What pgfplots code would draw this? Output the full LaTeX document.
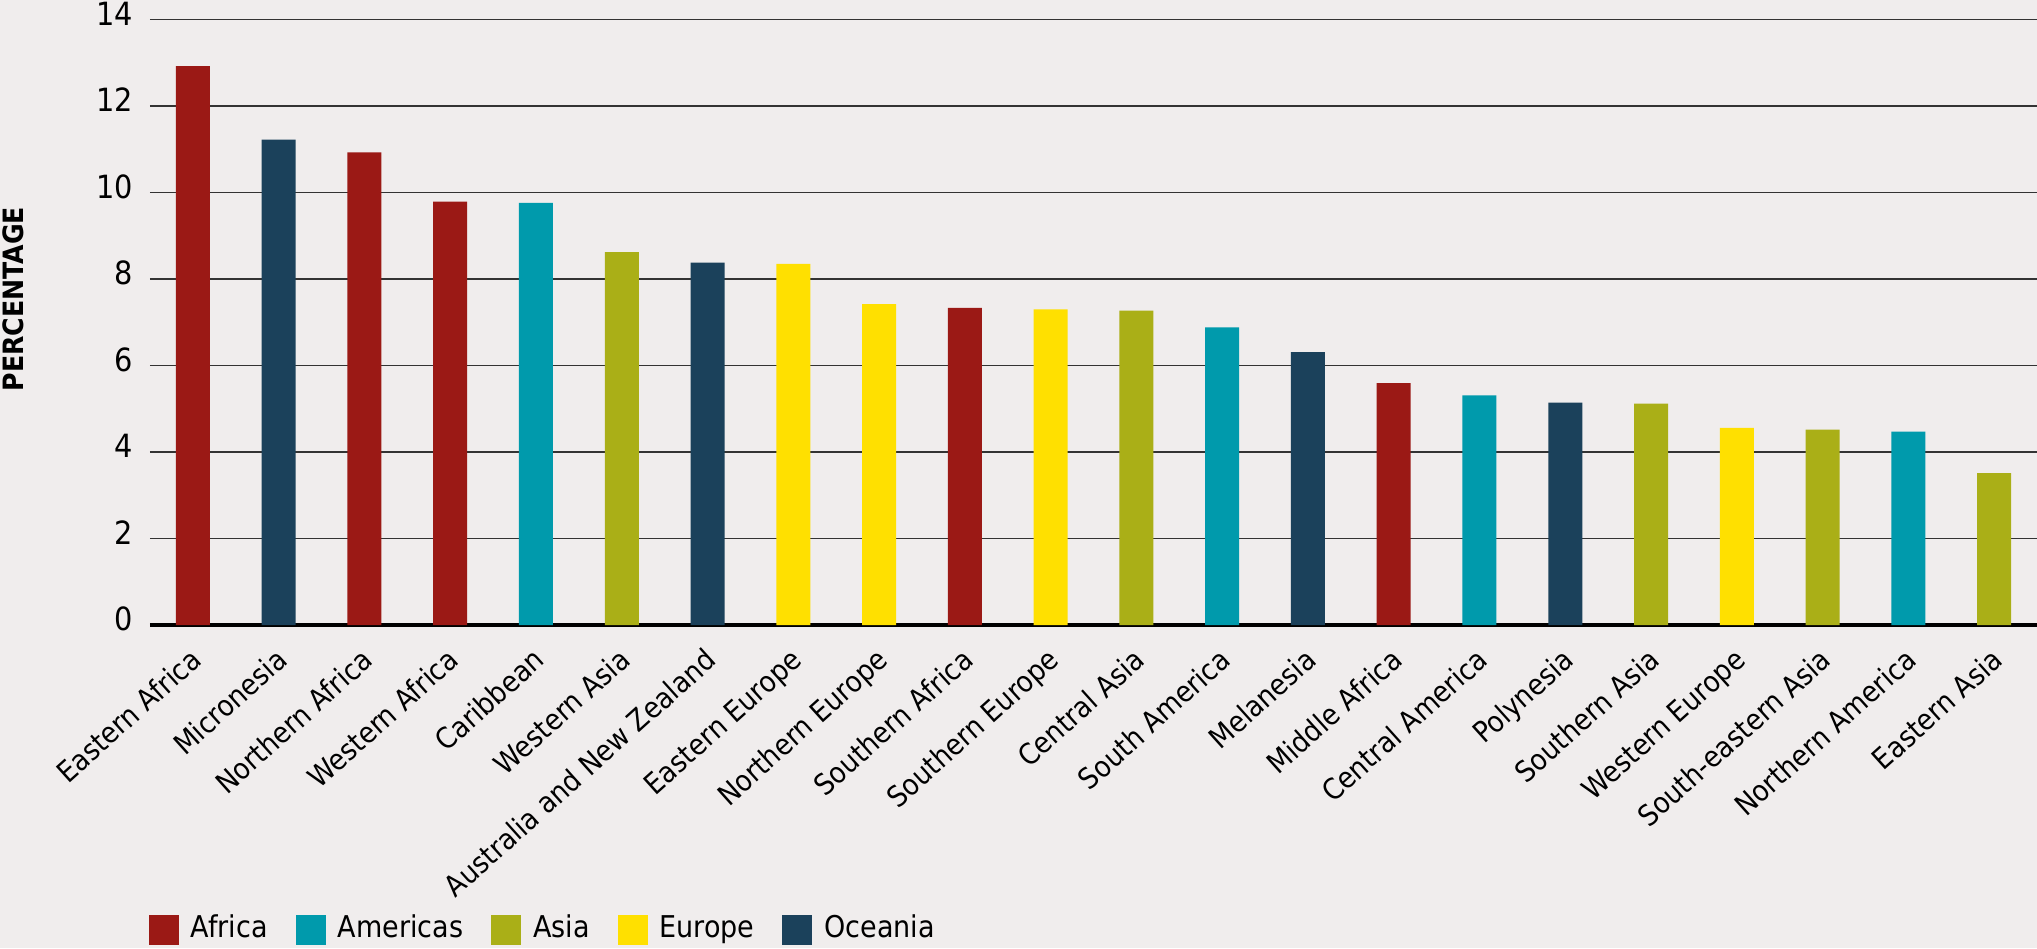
\documentclass[border=0pt]{standalone}
\usepackage{pgfplots}
\pgfplotsset{compat=1.18}
\usepackage{fontspec}
\setmainfont{DejaVu Sans Condensed}
\definecolor{bgc}{HTML}{F0EDED}
\definecolor{africa}{HTML}{9B1915}
\definecolor{americas}{HTML}{009AAC}
\definecolor{asia}{HTML}{AAAF17}
\definecolor{europe}{HTML}{FFE000}
\definecolor{oceania}{HTML}{1B415B}
\begin{document}
\begin{tikzpicture}
\fill[bgc] (-75pt,-161.5pt) rectangle (943.5pt,312.5pt);
\useasboundingbox (-75pt,-161.5pt) rectangle (943.5pt,312.5pt);
\begin{axis}[
  scale only axis,
  width=943.5pt, height=302.75pt,
  ybar, bar width=17pt, bar shift=0pt,
  xmin=-0.5, xmax=21.5,
  ymin=0, ymax=14,
  ytick={0,2,...,14},
  xtick={0,...,21},
  xticklabels={Eastern Africa, Micronesia, Northern Africa, Western Africa, Caribbean, Western Asia, Australia and New Zealand, Eastern Europe, Northern Europe, Southern Africa, Southern Europe, Central Asia, South America, Melanesia, Middle Africa, Central America, Polynesia, Southern Asia, Western Europe, South-eastern Asia, Northern America, Eastern Asia},
  x tick label style={font=\fontsize{14.5}{17}\selectfont, text height=11pt, text depth=3pt, inner sep=0pt, anchor=east, xshift=2.6pt, yshift=-15.8pt, rotate=42},
  y tick label style={anchor=east, xshift=-5pt, yshift=3pt, font=\fontsize{16}{18}\selectfont},
  /pgf/number format/assume math mode=true,
  major tick length=0pt,
  axis x line*=bottom, axis y line*=left,
  x axis line style={line width=1.6pt, -},
  y axis line style={draw=none},
  ymajorgrids,
  major grid style={black!80, line width=0.7pt},
  every axis y label/.style={at={(axis description cs:-0.0726,0.538)}, rotate=90, anchor=center, font=\bfseries\fontsize{14}{16}\selectfont},
  ylabel={PERCENTAGE},
  legend columns=5,
  legend style={at={(axis description cs:-0.004,-0.503)}, anchor=west, draw=none, fill=none,
    font=\fontsize{15}{17}\selectfont,
    nodes={inner sep=0pt, text height=11pt, text depth=3pt},
    /tikz/every odd column/.append style={column sep=6pt},
    /tikz/every even column/.append style={column sep=14pt}},
  legend image code/.code={\fill[#1] (0pt,-7.5pt) rectangle (15pt,7.5pt);},
  every axis plot/.append style={draw=none},
]
\addplot[fill=africa] coordinates {(0,12.92) (2,10.93) (3,9.79) (9,7.33) (14,5.59)};
\addplot[fill=americas] coordinates {(4,9.76) (12,6.88) (15,5.31) (20,4.47)};
\addplot[fill=asia] coordinates {(5,8.62) (11,7.27) (17,5.12) (19,4.52) (21,3.51)};
\addplot[fill=europe] coordinates {(7,8.35) (8,7.42) (10,7.30) (18,4.56)};
\addplot[fill=oceania] coordinates {(1,11.22) (6,8.38) (13,6.31) (16,5.14)};
\legend{Africa, Americas, Asia, Europe, Oceania}
\end{axis}
\end{tikzpicture}
\end{document}
